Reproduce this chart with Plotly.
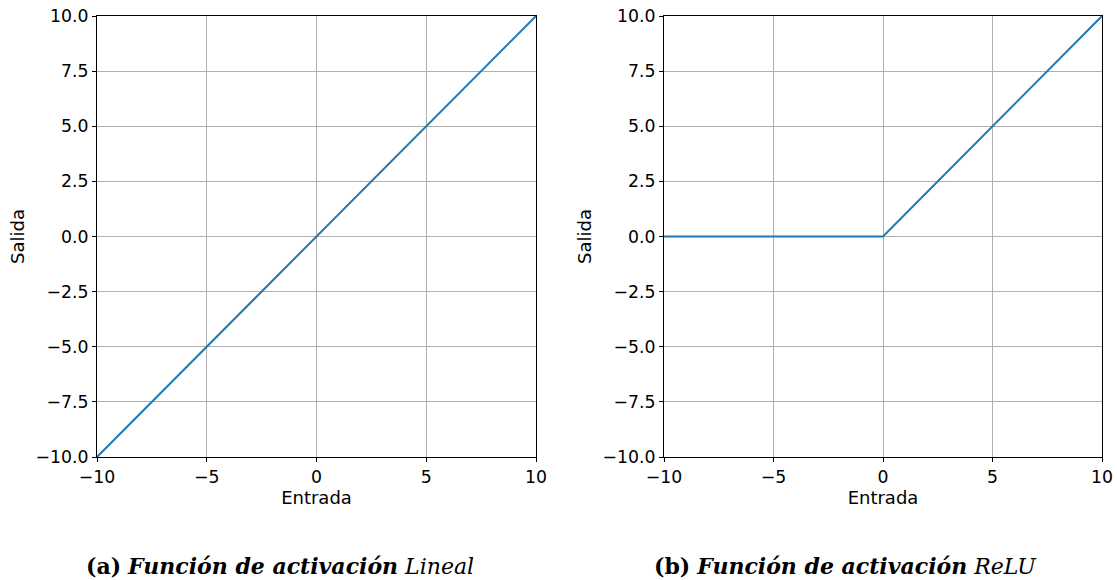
import plotly.graph_objects as go

# Data
x_lineal = [-10, 10]
y_lineal = [-10, 10]
x_relu = [-10, 0, 10]
y_relu = [0, 0, 10]
captions = [
    "<b>(a)</b> <b><i>Función de activación</i></b> <i>Lineal</i>",
    "<b>(b)</b> <b><i>Función de activación</i></b> <i>ReLU</i>",
]
x_ticks = [-10, -5, 0, 5, 10]
y_ticks = [-10, -7.5, -5, -2.5, 0, 2.5, 5, 7.5, 10]

W, H = 1117, 580
color = "#1f77b4"

fig = go.Figure()
fig.add_trace(go.Scatter(x=x_lineal, y=y_lineal, mode="lines",
                         line=dict(color=color, width=2), xaxis="x", yaxis="y",
                         showlegend=False))
fig.add_trace(go.Scatter(x=x_relu, y=y_relu, mode="lines",
                         line=dict(color=color, width=2), xaxis="x2", yaxis="y2",
                         showlegend=False))

font_tick = dict(family="DejaVu Sans", size=17.3, color="black")
font_title = dict(family="DejaVu Sans", size=18, color="black")

def xa(domain, anchor):
    return dict(domain=domain, anchor=anchor, range=[-10, 10], tickvals=x_ticks,
                ticktext=[("\u2212" + str(abs(v))) if v < 0 else str(v) for v in x_ticks],
                ticks="outside", ticklen=4, tickwidth=1, tickcolor="black",
                showline=True, linecolor="black", linewidth=1, mirror=True,
                showgrid=True, gridcolor="#b0b0b0", gridwidth=0.8, zeroline=False,
                automargin=False,
                tickfont=font_tick, title=dict(text="Entrada", font=font_title, standoff=4))

def ya(domain, anchor):
    return dict(domain=domain, anchor=anchor, range=[-10, 10], tickvals=y_ticks,
                ticktext=[("\u2212" if v < 0 else "") + f"{abs(v):.1f}" for v in y_ticks],
                ticks="outside", ticklen=4, tickwidth=1, tickcolor="black",
                showline=True, linecolor="black", linewidth=1, mirror=True,
                showgrid=True, gridcolor="#b0b0b0", gridwidth=0.8, zeroline=False,
                automargin=False,
                tickfont=font_tick, title=dict(text="Salida", font=font_title, standoff=6))

ydom = [1 - 457 / H, 1 - 16 / H]
fig.update_layout(
    width=W, height=H,
    margin=dict(l=0, r=0, t=0, b=0),
    paper_bgcolor="white", plot_bgcolor="white",
    xaxis=xa([97 / W, 536 / W], "y"),
    yaxis=ya(ydom, "x"),
    xaxis2=xa([664 / W, 1102 / W], "y2"),
    yaxis2=ya(ydom, "x2"),
)

for cx, txt in zip([280, 845], captions):
    fig.add_annotation(x=cx / W, y=1 - 566 / H, xref="paper", yref="paper",
                       text=txt, showarrow=False, xanchor="center", yanchor="middle",
                       font=dict(family="DejaVu Serif", size=22, color="black"))

fig.write_html("out.html")
